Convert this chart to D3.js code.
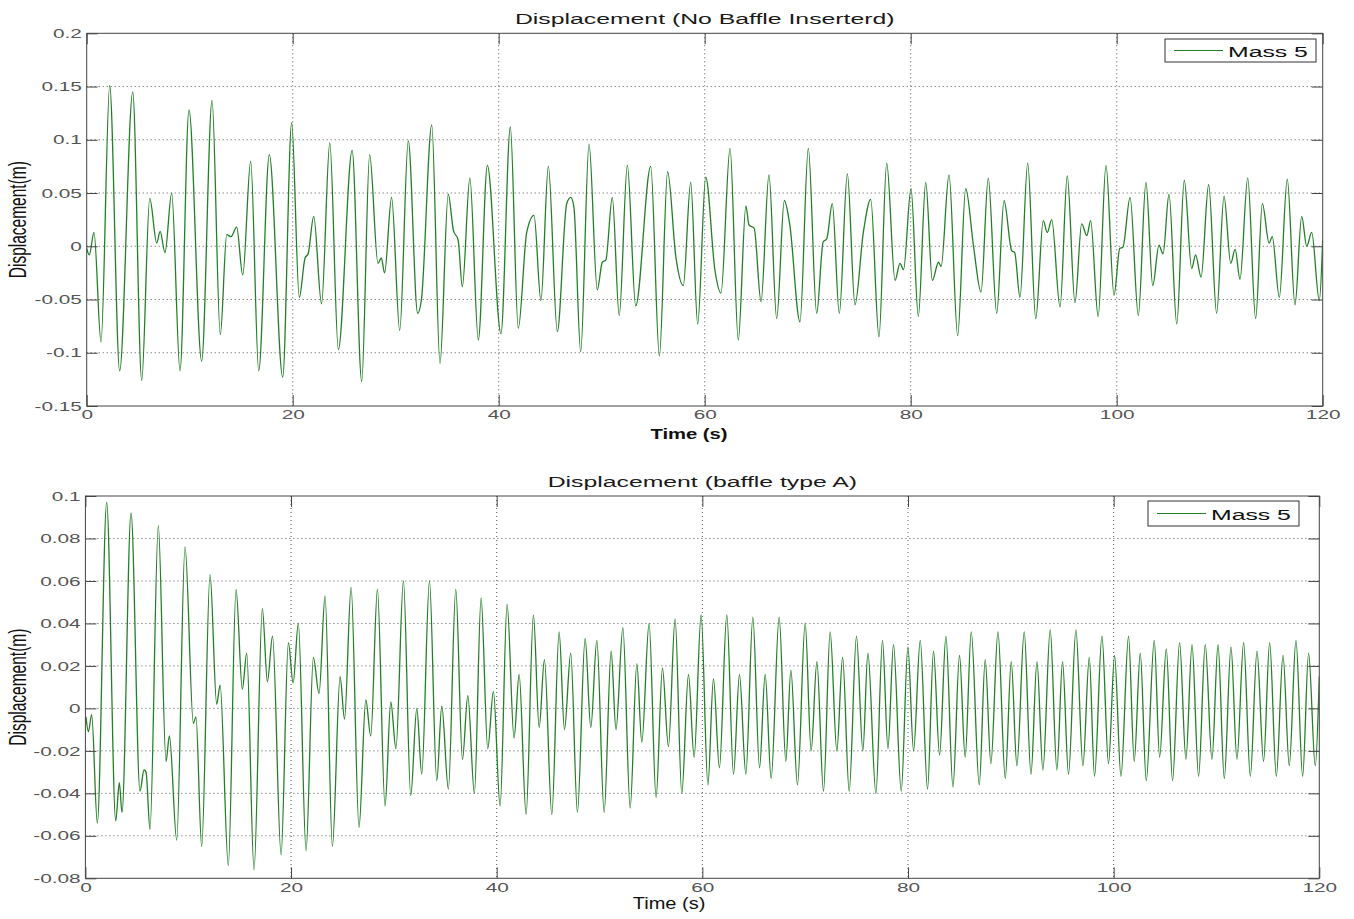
<!DOCTYPE html>
<html>
<head>
<meta charset="utf-8">
<script src="https://cdn.jsdelivr.net/npm/d3@7"></script>
<style>
  body { margin: 0; background: #fff; }
  text { font-family: "Liberation Sans", Arial, Helvetica, sans-serif; }
</style>
</head>
<body>
<script>
// ---- axis ticks ----
const timeTicks = [0, 20, 40, 60, 80, 100, 120];
const timeTickLabels = ["0", "20", "40", "60", "80", "100", "120"];
const dispTicksNoBaffle = [-0.15, -0.1, -0.05, 0, 0.05, 0.1, 0.15, 0.2];
const dispTickLabelsNoBaffle = ["-0.15", "-0.1", "-0.05", "0", "0.05", "0.1", "0.15", "0.2"];
const dispTicksBaffleA = [-0.08, -0.06, -0.04, -0.02, 0, 0.02, 0.04, 0.06, 0.08, 0.1];
const dispTickLabelsBaffleA = ["-0.08", "-0.06", "-0.04", "-0.02", "0", "0.02", "0.04", "0.06", "0.08", "0.1"];

// ---- Mass 5 response, no baffle (turning points, s / m) ----
const timeNoBaffle = [0, 0.25, 0.71, 1.39, 2.23, 3.2, 4.47, 5.34, 6.12, 6.8, 7.13, 7.6, 8.25, 9.06, 9.93, 11.16, 12.17, 12.97, 13.6, 14.0, 14.56, 15.15, 15.92, 16.7, 17.73, 19.03, 19.9, 20.64, 21.2, 21.5, 22.04, 22.8, 23.6, 24.43, 25.77, 26.7, 27.47, 28.28, 28.6, 28.92, 29.6, 30.39, 31.22, 32.13, 32.5, 33.5, 34.3, 35.1, 35.6, 36.06, 36.47, 37.2, 38.02, 38.9, 40.22, 41.13, 41.9, 42.72, 43.43, 44.1, 44.82, 45.69, 46.6, 47.0, 47.3, 47.96, 48.77, 49.57, 50.06, 50.4, 51.03, 51.7, 52.49, 53.3, 54.76, 55.6, 56.4, 57.2, 57.92, 58.64, 59.32, 60.1, 61.0, 61.58, 62.46, 63.26, 64.0, 64.3, 64.8, 65.47, 66.24, 66.99, 67.73, 68.25, 69.25, 70.06, 70.87, 71.5, 71.85, 72.39, 73.07, 73.85, 74.59, 75.4, 76.12, 76.92, 77.67, 78.48, 78.96, 79.3, 80.03, 80.74, 81.46, 82.1, 82.7, 82.95, 83.72, 84.56, 85.34, 86.1, 86.83, 87.53, 88.35, 89.06, 89.8, 90.1, 90.61, 91.36, 92.14, 92.87, 93.26, 93.69, 94.5, 95.2, 95.95, 96.6, 97.1, 97.47, 98.2, 98.96, 99.74, 100.3, 100.6, 101.3, 102.1, 102.84, 103.5, 104.1, 104.5, 105.08, 105.83, 106.56, 107.28, 107.66, 108.19, 108.93, 109.7, 110.42, 111.07, 111.5, 111.97, 112.72, 113.49, 114.14, 114.8, 115.1, 115.79, 116.56, 117.31, 117.96, 118.45, 118.93, 119.67, 120.0];
const dispNoBaffle = [-0.002, -0.008, 0.013, -0.09, 0.151, -0.117, 0.145, -0.126, 0.045, 0.003, 0.014, -0.006, 0.05, -0.117, 0.128, -0.108, 0.137, -0.083, 0.011, 0.009, 0.018, -0.027, 0.08, -0.117, 0.086, -0.123, 0.116, -0.048, -0.011, -0.007, 0.028, -0.054, 0.097, -0.097, 0.09, -0.127, 0.086, -0.016, -0.011, -0.025, 0.046, -0.079, 0.099, -0.063, -0.05, 0.114, -0.11, 0.049, 0.015, 0.006, -0.038, 0.064, -0.088, 0.076, -0.082, 0.112, -0.077, 0.013, 0.029, -0.051, 0.075, -0.08, 0.04, 0.046, 0.037, -0.099, 0.096, -0.041, -0.015, -0.013, 0.046, -0.065, 0.076, -0.056, 0.075, -0.103, 0.07, -0.01, -0.037, 0.06, -0.073, 0.065, -0.023, -0.044, 0.092, -0.088, 0.038, 0.02, 0.017, -0.052, 0.067, -0.068, 0.043, 0.021, -0.071, 0.092, -0.063, 0.004, 0.007, 0.04, -0.063, 0.068, -0.055, 0.013, 0.044, -0.085, 0.078, -0.032, -0.016, -0.022, 0.054, -0.066, 0.06, -0.032, -0.015, -0.019, 0.067, -0.084, 0.054, 0.0, -0.043, 0.064, -0.063, 0.043, -0.004, -0.006, -0.048, 0.078, -0.068, 0.024, 0.013, 0.025, -0.057, 0.066, -0.053, 0.021, 0.01, 0.024, -0.066, 0.076, -0.046, -0.002, -0.001, 0.046, -0.065, 0.06, -0.037, 0.001, -0.007, 0.049, -0.073, 0.062, -0.021, -0.008, -0.029, 0.058, -0.063, 0.047, -0.016, -0.003, -0.031, 0.064, -0.068, 0.04, 0.003, 0.009, -0.048, 0.063, -0.055, 0.028, 0.0, 0.013, -0.051, 0.006];

// ---- Mass 5 response, baffle type A (turning points, s / m) ----
const timeBaffleA = [0.06, 0.29, 0.61, 1.16, 2.07, 2.95, 3.3, 3.56, 4.44, 5.31, 5.7, 5.9, 6.28, 7.09, 7.84, 8.17, 8.88, 9.69, 10.5, 10.75, 11.31, 12.12, 12.77, 13.1, 13.9, 14.65, 15.26, 15.69, 16.4, 17.21, 17.7, 18.2, 19.03, 19.74, 20.2, 20.71, 21.46, 22.17, 22.72, 23.31, 24.02, 24.77, 25.2, 25.84, 26.61, 27.27, 27.75, 28.4, 29.14, 29.7, 30.2, 30.93, 31.64, 32.23, 32.71, 33.46, 34.17, 34.66, 35.3, 36.02, 36.67, 37.19, 37.83, 38.48, 39.13, 39.68, 40.33, 41.01, 41.69, 42.18, 42.86, 43.57, 44.13, 44.64, 45.36, 46.07, 46.59, 47.2, 47.85, 48.6, 49.15, 49.74, 50.45, 51.13, 51.6, 52.27, 52.98, 53.63, 54.11, 54.82, 55.5, 56.12, 56.7, 57.35, 58.0, 58.65, 59.2, 59.88, 60.54, 61.08, 61.66, 62.38, 63.03, 63.61, 64.23, 64.91, 65.56, 66.11, 66.69, 67.47, 68.12, 68.61, 69.25, 70.0, 70.58, 71.14, 71.78, 72.43, 73.08, 73.64, 74.28, 74.99, 75.61, 76.1, 76.88, 77.52, 78.05, 78.59, 79.34, 79.99, 80.54, 81.19, 81.9, 82.48, 83.07, 83.69, 84.37, 85.01, 85.56, 86.15, 86.93, 87.51, 88.06, 88.75, 89.46, 90.04, 90.59, 91.3, 91.96, 92.54, 93.12, 93.83, 94.48, 95.03, 95.61, 96.33, 97.01, 97.63, 98.14, 98.86, 99.5, 100.09, 100.71, 101.45, 102.0, 102.59, 103.17, 103.95, 104.47, 105.12, 105.73, 106.41, 107.03, 107.62, 108.26, 108.91, 109.56, 110.15, 110.76, 111.41, 111.99, 112.64, 113.29, 113.94, 114.58, 115.17, 115.82, 116.47, 117.08, 117.73, 118.38, 118.96, 119.61, 120.0];
const dispBaffleA = [-0.004, -0.011, -0.003, -0.054, 0.097, -0.053, -0.035, -0.049, 0.092, -0.039, -0.029, -0.03, -0.057, 0.086, -0.025, -0.013, -0.062, 0.076, -0.007, -0.004, -0.065, 0.063, 0.002, 0.011, -0.074, 0.056, 0.009, 0.026, -0.076, 0.047, 0.0125, 0.034, -0.069, 0.031, 0.012, 0.04, -0.067, 0.024, 0.007, 0.053, -0.065, 0.015, -0.005, 0.057, -0.056, 0.004, -0.013, 0.056, -0.046, 0.003, -0.019, 0.06, -0.041, 0.0, -0.031, 0.06, -0.034, 0.001, -0.038, 0.056, -0.024, 0.006, -0.04, 0.052, -0.019, 0.008, -0.046, 0.049, -0.014, 0.016, -0.05, 0.044, -0.009, 0.023, -0.05, 0.036, -0.01, 0.026, -0.049, 0.033, -0.009, 0.032, -0.049, 0.027, -0.01, 0.038, -0.047, 0.021, -0.016, 0.04, -0.042, 0.019, -0.018, 0.042, -0.04, 0.016, -0.023, 0.044, -0.036, 0.014, -0.028, 0.044, -0.031, 0.016, -0.031, 0.043, -0.028, 0.016, -0.033, 0.043, -0.025, 0.018, -0.036, 0.04, -0.02, 0.022, -0.039, 0.036, -0.02, 0.024, -0.039, 0.034, -0.02, 0.026, -0.04, 0.032, -0.019, 0.03, -0.039, 0.029, -0.02, 0.032, -0.038, 0.027, -0.022, 0.034, -0.037, 0.025, -0.023, 0.036, -0.036, 0.023, -0.026, 0.036, -0.033, 0.022, -0.027, 0.036, -0.031, 0.022, -0.029, 0.037, -0.029, 0.022, -0.031, 0.037, -0.027, 0.024, -0.032, 0.034, -0.026, 0.025, -0.032, 0.034, -0.025, 0.026, -0.034, 0.032, -0.023, 0.028, -0.034, 0.031, -0.024, 0.03, -0.032, 0.03, -0.024, 0.03, -0.033, 0.029, -0.024, 0.031, -0.032, 0.027, -0.025, 0.031, -0.032, 0.025, -0.027, 0.032, -0.032, 0.026, -0.027, 0.015];

const W = 1354, H = 919;
const SX = 1.6;          // horizontal stretch applied to all lettering
const TICK = 11;         // inward tick length
const LINE_COLOR = "#237f27";

const svg = d3.select("body").append("svg").attr("width", W).attr("height", H);

function drawPanel(cfg, idx) {
  const x = d3.scaleLinear().domain([0, 120]).range([cfg.left, cfg.right]);
  const y = d3.scaleLinear().domain(cfg.yDomain).range([cfg.bottom, cfg.top]);
  const g = svg.append("g");

  // dotted grid
  const grid = g.append("g").attr("stroke", "#555").attr("stroke-width", 1).attr("stroke-dasharray", "1,3");
  grid.selectAll("line.v").data(timeTicks.slice(1, -1)).join("line").attr("class", "v")
    .attr("x1", d => x(d)).attr("x2", d => x(d)).attr("y1", cfg.top).attr("y2", cfg.bottom);
  grid.selectAll("line.h").data(cfg.yTicks.filter(d => d > cfg.yDomain[0] && d < cfg.yDomain[1])).join("line").attr("class", "h")
    .attr("x1", cfg.left).attr("x2", cfg.right).attr("y1", d => y(d)).attr("y2", d => y(d));

  // signal
  const clipId = "clip" + idx;
  svg.append("clipPath").attr("id", clipId).append("rect")
    .attr("x", cfg.left).attr("y", cfg.top).attr("width", cfg.right - cfg.left).attr("height", cfg.bottom - cfg.top);
  const line = d3.line().x(d => x(d[0])).y(d => y(d[1])).curve(d3.curveMonotoneX);
  g.append("path").datum(d3.zip(cfg.time, cfg.disp))
    .attr("clip-path", `url(#${clipId})`)
    .attr("fill", "none").attr("stroke", LINE_COLOR).attr("stroke-width", 1.3)
    .attr("stroke-linejoin", "round").attr("d", line);

  // axes (ticks inward on all four sides)
  const yFmt = d => cfg.yLabels[cfg.yTicks.indexOf(d)];
  const xFmt = d => timeTickLabels[timeTicks.indexOf(d)];
  const styleAxis = sel => {
    sel.select(".domain").remove();
    sel.selectAll(".tick line").attr("stroke", "#444");
    sel.selectAll(".tick text").attr("fill", "#555").attr("font-size", 13)
      .attr("font-family", '"Liberation Sans", Arial, sans-serif');
  };
  g.append("g").attr("transform", `translate(${cfg.left},0)`)
    .call(d3.axisLeft(y).tickValues(cfg.yTicks).tickFormat(yFmt).tickSize(-TICK).tickPadding(3))
    .call(styleAxis)
    .call(a => a.selectAll(".tick text").attr("transform", `scale(${SX},1)`));
  g.append("g").attr("transform", `translate(${cfg.right},0)`)
    .call(d3.axisRight(y).tickValues(cfg.yTicks).tickFormat("").tickSize(-TICK))
    .call(styleAxis);
  g.append("g").attr("transform", `translate(0,${cfg.bottom})`)
    .call(d3.axisBottom(x).tickValues(timeTicks).tickFormat(xFmt).tickSize(-TICK).tickPadding(4))
    .call(styleAxis)
    .call(a => a.selectAll(".tick text").attr("transform", `scale(${SX},1)`));
  g.append("g").attr("transform", `translate(0,${cfg.top})`)
    .call(d3.axisTop(x).tickValues(timeTicks).tickFormat("").tickSize(-TICK))
    .call(styleAxis);

  // axes box
  g.append("rect").attr("x", cfg.left).attr("y", cfg.top)
    .attr("width", cfg.right - cfg.left).attr("height", cfg.bottom - cfg.top)
    .attr("fill", "none").attr("stroke", "#444").attr("stroke-width", 1);

  // title
  g.append("text").attr("transform", `translate(${(cfg.left + cfg.right) / 2},${cfg.titleY}) scale(${SX},1)`)
    .attr("text-anchor", "middle").attr("font-size", 15.5).attr("fill", "#1a1a1a").text(cfg.title);

  // x label
  g.append("text").attr("transform", `translate(${cfg.xLabelX},${cfg.xLabelY}) scale(${cfg.xLabelSX},1)`)
    .attr("text-anchor", "middle").attr("font-size", cfg.xLabelSize)
    .attr("font-weight", cfg.xLabelBold ? "bold" : "normal").attr("fill", "#111").text("Time (s)");

  // y label
  g.append("text").attr("transform", `translate(${cfg.yLabelX},${(cfg.top + cfg.bottom) / 2}) rotate(-90) scale(1,1.55)`)
    .attr("text-anchor", "middle").attr("font-size", 15.5).attr("fill", "#111").text("Displacement(m)");

  // legend
  const lg = g.append("g");
  lg.append("rect").attr("x", cfg.legend.x).attr("y", cfg.legend.y).attr("width", cfg.legend.w).attr("height", cfg.legend.h)
    .attr("fill", "#fff").attr("stroke", "#333").attr("stroke-width", 1);
  lg.append("line").attr("x1", cfg.legend.x + 9).attr("x2", cfg.legend.x + 58)
    .attr("y1", cfg.legend.y + cfg.legend.h / 2).attr("y2", cfg.legend.y + cfg.legend.h / 2)
    .attr("stroke", LINE_COLOR).attr("stroke-width", 1.15);
  lg.append("text").attr("transform", `translate(${cfg.legend.x + 63},${cfg.legend.y + cfg.legend.h / 2 + 6}) scale(${SX},1)`)
    .attr("font-size", 15.5).attr("fill", "#111").text("Mass 5");
}

drawPanel({
  left: 86.7, right: 1322.7, top: 33.3, bottom: 406,
  yDomain: [-0.15, 0.2], yTicks: dispTicksNoBaffle, yLabels: dispTickLabelsNoBaffle,
  time: timeNoBaffle, disp: dispNoBaffle,
  title: "Displacement (No Baffle Inserterd)", titleY: 23.5,
  xLabelX: 689, xLabelY: 439, xLabelSize: 15, xLabelBold: true, xLabelSX: 1.35,
  yLabelX: 26,
  legend: { x: 1165, y: 39, w: 151, h: 23 }
}, 0);

drawPanel({
  left: 85.4, right: 1319.3, top: 496, bottom: 878.3,
  yDomain: [-0.08, 0.1], yTicks: dispTicksBaffleA, yLabels: dispTickLabelsBaffleA,
  time: timeBaffleA, disp: dispBaffleA,
  title: "Displacement (baffle type A)", titleY: 486.5,
  xLabelX: 669, xLabelY: 909, xLabelSize: 16, xLabelBold: false, xLabelSX: 1.25,
  yLabelX: 26,
  legend: { x: 1148, y: 501, w: 151, h: 25 }
}, 1);
</script>
</body>
</html>
